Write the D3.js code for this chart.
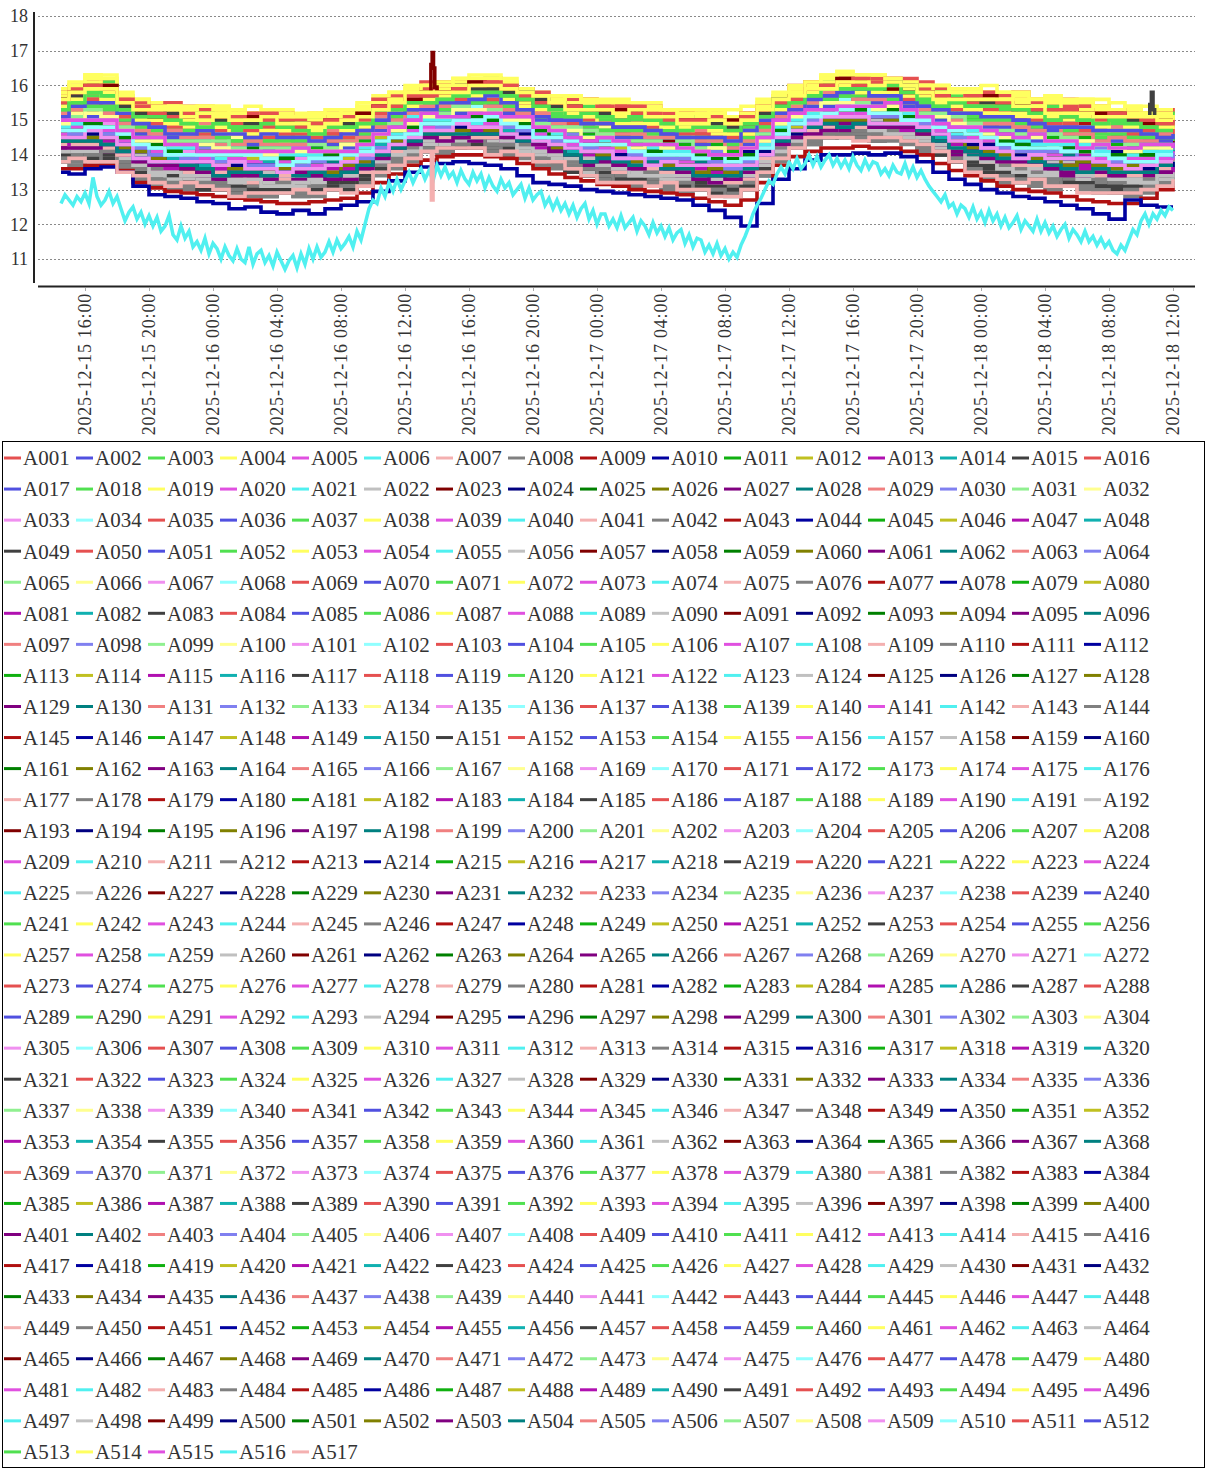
<!DOCTYPE html>
<html>
<head>
<meta charset="utf-8">
<title>A001 - A517</title>
<style>
  body { margin: 0; background: #fff; }
  svg { display: block; font-family: "Liberation Serif", "DejaVu Serif", serif; }
</style>
</head>
<body>
<div id="chart"></div>
<script src="https://d3js.org/d3.v7.min.js"></script>
<script>
var W = 1207, H = 1470;

// sample hours, counted from 2025-12-15 16:00
var bandHours = [-1.5,-1,0,1,2,3,4,5,6,7,8,9,10,11,12,13,14,15,16,17,18,19,20,21,22,23,24,25,26,27,28,29,30,31,32,33,34,
  35,36,37,38,39,40,41,42,43,44,45,46,47,48,49,50,51,52,53,54,55,56,57,58,59,60,61,62,63,64,65,66,67,68];

// upper and lower edge of the dense band of sensors
var bandTop = [15.9,16.1,16.3,16.25,15.8,15.6,15.55,15.5,15.45,15.45,15.4,15.35,15.3,15.3,15.25,15.25,15.25,15.3,15.3,
  15.45,15.65,15.8,15.95,16.05,16.1,16.2,16.25,16.3,16.15,16.0,15.85,15.75,15.7,15.65,15.6,15.55,15.5,15.45,15.4,15.35,
  15.3,15.3,15.2,15.3,15.55,15.8,16.0,16.15,16.25,16.35,16.35,16.3,16.25,16.15,16.05,16.0,15.95,15.95,15.9,15.85,15.8,
  15.75,15.7,15.65,15.6,15.5,15.45,15.4,15.35,15.35,15.3];
var bandBottom = [13.8,13.8,13.8,13.75,13.6,13.35,13.2,13.1,13.05,13.0,12.95,12.9,12.9,12.85,12.85,12.85,12.9,12.95,13.0,
  13.15,13.45,13.7,13.9,14.05,14.1,14.15,14.15,14.1,14.05,13.95,13.8,13.65,13.5,13.4,13.3,13.2,13.15,13.1,13.05,13.0,
  12.95,12.9,12.85,13.0,13.45,13.9,14.15,14.35,14.45,14.5,14.5,14.45,14.45,14.35,14.2,13.95,13.75,13.55,13.4,13.3,13.2,
  13.15,13.1,13.05,13.0,12.95,12.9,12.9,12.95,13.05,13.15];

// the separate lines under the band
var navyLine = [13.5,13.45,13.6,13.65,13.5,13.1,12.85,12.8,12.75,12.65,12.6,12.45,12.5,12.35,12.3,12.4,12.3,12.45,12.55,
  12.65,12.95,13.25,13.5,13.65,13.75,13.8,13.75,13.7,13.6,13.4,13.2,13.15,13.1,13.0,12.95,12.9,12.85,12.8,12.75,12.7,
  12.55,12.4,12.2,11.95,12.6,13.3,13.6,13.85,14.0,14.0,14.05,14.0,14.05,13.95,13.8,13.5,13.3,13.15,13.0,12.9,12.8,12.75,
  12.65,12.55,12.45,12.3,12.15,12.7,12.55,12.5,12.5];
var redLine = [13.6,13.6,13.7,13.7,13.55,13.2,13.05,12.95,12.9,12.85,12.8,12.75,12.7,12.65,12.6,12.6,12.65,12.7,12.75,
  12.9,13.2,13.45,13.7,13.85,13.95,14.0,14.0,13.95,13.9,13.75,13.6,13.45,13.35,13.25,13.15,13.1,13.0,12.95,12.9,12.85,
  12.75,12.65,12.55,12.7,13.2,13.7,13.95,14.1,14.2,14.2,14.25,14.2,14.2,14.1,14.0,13.75,13.55,13.4,13.25,13.1,13.0,
  12.95,12.9,12.8,12.7,12.65,12.6,12.6,12.75,13.0,13.1];

// lowest sensor, every 15 minutes from hour -1.5
var cyanLine = [
  12.6,12.85,12.7,12.55, 12.8,12.65,12.9,12.6, 13.35,12.8,12.55,12.7, 12.95,12.6,12.8,12.45,
  12.1,12.35,12.5,12.15, 12.35,12.0,12.25,11.95, 12.2,11.8,11.95,12.25, 11.7,11.55,11.95,11.6,
  11.8,11.35,11.5,11.25, 11.6,11.15,11.45,11.3, 11.0,11.35,11.1,10.95, 11.3,11.0,10.9,11.35,
  10.85,11.15,11.25,10.9, 11.1,10.8,11.2,10.95, 10.7,10.95,11.1,10.75, 11.15,10.85,11.3,11.0,
  11.35,11.05,11.2,11.5, 11.2,11.55,11.3,11.45, 11.65,11.35,11.8,11.55, 12.0,12.45,12.7,12.6,
  13.05,12.8,13.2,12.95, 13.3,13.0,13.25,13.5, 13.2,13.45,13.6,13.3, 13.55,13.25,13.7,13.4,
  13.65,13.35,13.5,13.2, 13.55,13.3,13.15,13.5, 13.25,13.45,13.05,13.35, 13.1,12.95,13.3,13.05,
  13.2,12.85,13.0,13.15, 12.75,13.05,12.7,12.85, 12.95,12.55,12.75,12.45, 12.7,12.4,12.6,12.3,
  12.55,12.2,12.45,12.6, 12.15,12.4,12.0,12.3, 12.3,11.95,12.15,11.9, 12.25,11.9,12.05,12.2,
  11.8,12.1,11.95,11.7, 12.05,11.75,11.95,11.65, 11.9,11.55,11.75,11.85, 11.45,11.7,11.35,11.6,
  11.55,11.2,11.4,11.15, 11.45,11.1,11.3,11.0, 11.2,11.05,11.4,11.65, 11.95,12.3,12.55,12.75,
  13.0,13.25,13.15,13.45, 13.65,13.45,13.8,13.6, 13.9,13.6,13.75,14.0, 13.7,13.95,13.65,13.85,
  14.0,13.7,13.9,13.65, 13.85,13.6,13.95,13.7, 13.55,13.85,13.6,13.8, 13.75,13.45,13.6,13.4,
  13.7,13.5,13.45,13.75, 13.4,13.65,13.35,13.55, 13.3,13.1,12.95,12.8, 12.65,12.85,12.5,12.6,
  12.3,12.55,12.45,12.2, 12.5,12.15,12.35,12.05, 12.4,12.1,12.3,11.95, 12.2,11.9,12.05,12.25,
  11.85,12.1,11.95,11.8, 12.15,11.8,12.05,11.75, 11.95,11.65,11.85,12.0, 11.6,11.85,11.7,11.5,
  11.8,11.5,11.65,11.4, 11.6,11.35,11.5,11.25, 11.15,11.4,11.25,11.55, 11.85,11.7,12.1,12.3,
  12.0,12.3,12.15,12.4, 12.25,12.5,12.4];

// small 0.1 steps a sensor makes around its level, hour by hour
var stepNoise = [0, 0, 0.1, 0, 0, -0.1, 0, 0, 0, 0.1, 0.1, 0, -0.1, 0, 0, 0, 0.1, 0, 0, -0.1, -0.1, 0, 0];

// 34 colour slots, repeated through the series
var palette = ["#e55050","#5050e0","#50e050","#ffff60","#e050e0","#50f0f0","#f4b0b0","#808080","#b01010","#0000a0",
  "#10b010","#c0c020","#b010b0","#10b0b0","#404040","#e55050","#5050e0","#50e050","#ffff60","#e050e0","#50f0f0",
  "#c0c0c0","#800000","#000080","#008000","#808000","#800080","#008080","#f08080","#8080f0","#90f090","#ffff90",
  "#f090f0","#90ffff"];
// where each slot sits in the band (0 bottom, 1 top), and the shift per repeat
var slotLevel = [0.80,0.62,0.72,0.80,0.45,0.50,0.30,0.12,0.62,0.55,0.64,0.50,0.35,0.42,0.18,0.78,0.66,0.74,0.84,0.48,
  0.55,0.25,0.58,0.40,0.52,0.38,0.30,0.33,0.70,0.45,0.64,0.60,0.40,0.50];
var cycleShift = [0.12,-0.07,0.04,-0.14,0.09,-0.02,0.15,-0.10,0.01,0.07,-0.05,0.11,-0.12,0.03,-0.09,0.06];

var levelOverride = { A491: 0.84, A499: 0.86, A517: 0 };
var ownSeries = { A485: redLine, A486: navyLine };
var spikes = {
  A499: [[21.62, 16.6], [21.7, 16.95], [21.78, 16.5], [21.86, 15.95]],
  A517: [[21.65, 12.7], [21.75, 14.1]],
  A491: [[66.55, 15.45], [66.65, 15.8], [66.75, 15.3], [66.85, 15.0]]
};

var yTicks = [11, 12, 13, 14, 15, 16, 17, 18];
var seriesCount = 517;

var names = d3.range(1, seriesCount + 1).map(function(i) { return "A" + d3.format("03d")(i); });
var start = new Date(2025, 11, 15, 16, 0);
function at(h) { return new Date(start.getTime() + h * 3600000); }
function r1(v) { return Math.round(v * 10) / 10; }

var x = d3.scaleTime()
  .domain([new Date(2025, 11, 15, 13, 0), new Date(2025, 11, 18, 13, 30)])
  .range([37, 1197]);
var y = d3.scaleLinear().domain([10.2, 18.2]).range([286.8, 9.06]);

var svg = d3.select("#chart").append("svg")
  .attr("width", W)
  .attr("height", H);

// grid
svg.append("g").selectAll("line")
  .data(yTicks)
  .enter().append("line")
  .attr("x1", 38).attr("x2", 1195)
  .attr("y1", function(d) { return Math.round(y(d)) + 0.5; })
  .attr("y2", function(d) { return Math.round(y(d)) + 0.5; })
  .attr("stroke", "#8a8a8a")
  .attr("stroke-dasharray", "2,2");

svg.append("g").selectAll("text")
  .data(yTicks)
  .enter().append("text")
  .attr("x", 28)
  .attr("y", function(d) { return y(d); })
  .attr("dy", "0.35em")
  .attr("text-anchor", "end")
  .attr("font-size", "18px")
  .attr("fill", "#333")
  .text(function(d) { return d; });

// series
var line = d3.line()
  .x(function(d) { return x(at(d[0])); })
  .y(function(d) { return y(d[1]); })
  .curve(d3.curveStepAfter);
var cyanCurve = d3.line()
  .x(function(d) { return x(at(d[0])); })
  .y(function(d) { return y(d[1]); });

var plot = svg.append("g").attr("class", "series");
names.forEach(function(name, i) {
  var color = palette[i % 34];
  if (name === "A516") {
    var cp = cyanLine.map(function(v, k) { return [-1.5 + k * 0.25, v]; });
    plot.append("path")
      .attr("d", cyanCurve(cp))
      .attr("fill", "none")
      .attr("stroke", color)
      .attr("stroke-width", 3.5);
    return;
  }
  var pts;
  if (ownSeries[name]) {
    pts = bandHours.map(function(h, k) { return [h, ownSeries[name][k]]; });
  } else {
    var lv = levelOverride[name] !== undefined ? levelOverride[name]
      : Math.max(0, Math.min(1, slotLevel[i % 34] + cycleShift[Math.floor(i / 34)]));
    pts = bandHours.map(function(h, k) {
      var n = stepNoise[(k + i * 7) % stepNoise.length];
      return [h, r1(bandBottom[k] + lv * (bandTop[k] - bandBottom[k]) + n)];
    });
  }
  if (spikes[name]) {
    pts = pts.concat(spikes[name]).sort(function(a, b) { return a[0] - b[0]; });
  }
  plot.append("path")
    .attr("d", line(pts))
    .attr("fill", "none")
    .attr("stroke", color)
    .attr("stroke-width", 3.6);
});

// axes
svg.append("line")
  .attr("x1", 34).attr("x2", 34).attr("y1", 12).attr("y2", 283)
  .attr("stroke", "#222").attr("stroke-width", 2);
svg.append("line")
  .attr("x1", 38).attr("x2", 1195).attr("y1", 286.5).attr("y2", 286.5)
  .attr("stroke", "#222").attr("stroke-width", 2);

var xTicks = x.ticks(d3.timeHour.every(4));
var fmt = d3.timeFormat("%Y-%m-%d %H:%M");
var xg = svg.append("g").selectAll("g")
  .data(xTicks)
  .enter().append("g")
  .attr("transform", function(d) { return "translate(" + Math.round(x(d)) + ",0)"; });
xg.append("line")
  .attr("x1", 0.5).attr("x2", 0.5).attr("y1", 288).attr("y2", 291)
  .attr("stroke", "#aaa");
xg.append("text")
  .attr("transform", "translate(0,293) rotate(-90)")
  .attr("dy", "0.35em")
  .attr("text-anchor", "end")
  .attr("font-size", "18px")
  .attr("letter-spacing", "0.8px")
  .attr("fill", "#333")
  .text(function(d) { return fmt(d); });

// legend
var legend = svg.append("g").attr("class", "legend");
legend.append("rect")
  .attr("x", 2.5).attr("y", 441.5)
  .attr("width", 1202).attr("height", 1026)
  .attr("fill", "none")
  .attr("stroke", "#000");

var item = legend.selectAll("g.item")
  .data(names)
  .enter().append("g")
  .attr("class", "item")
  .attr("transform", function(d, i) {
    return "translate(" + (4 + (i % 16) * 72) + "," + (458 + Math.floor(i / 16) * 31.06) + ")";
  });
item.append("line")
  .attr("x1", 0).attr("x2", 17).attr("y1", 0).attr("y2", 0)
  .attr("stroke", function(d, i) { return palette[i % 34]; })
  .attr("stroke-width", 3);
item.append("text")
  .attr("x", 19)
  .attr("dy", "0.35em")
  .attr("font-size", "21px")
  .attr("fill", "#333")
  .text(function(d) { return d; });
</script>
</body>
</html>
